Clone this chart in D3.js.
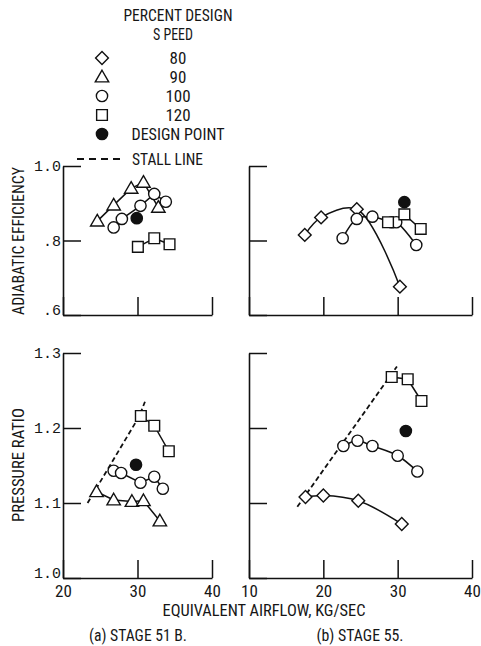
<!DOCTYPE html>
<html>
<head>
<meta charset="utf-8">
<script src="https://cdn.jsdelivr.net/npm/d3@7"></script>
<style>
  body { margin: 0; background: #fff; }
  text { fill: #161616; }
  .cond { font-family: "Liberation Sans Narrow", "Roboto Condensed", "DejaVu Sans Condensed", "Arial Narrow", sans-serif; }
  .mono { font-family: "Liberation Mono", "DejaVu Sans Mono", monospace; }
</style>
</head>
<body>
<div id="vis"></div>
<script>
// ---- data: [airflow kg/sec, value] ----
// stage 51B efficiency
const effA_90  = [[24.6,0.852],[26.8,0.895],[29.15,0.94],[30.8,0.956],[32.8,0.889]];
const effA_100 = [[26.8,0.835],[27.9,0.858],[30.4,0.893],[32.25,0.925],[33.8,0.904]];
const effA_120 = [[30.05,0.783],[32.25,0.806],[34.3,0.79]];
const effA_design = [[29.9,0.86]];
// stage 55 efficiency
const effB_80  = [[17.5,0.815],[19.7,0.862],[24.5,0.884],[30.3,0.676]];
const effB_100 = [[22.6,0.806],[24.5,0.858],[26.6,0.864],[29.2,0.849],[29.8,0.849],[32.5,0.788]];
const effB_120 = [[28.7,0.849],[30.9,0.87],[33.1,0.831]];
const effB_design = [[30.9,0.903]];
// stage 51B pressure ratio
const prA_90  = [[24.5,1.115],[26.8,1.104],[29.25,1.102],[30.8,1.103],[33.0,1.076]];
const prA_100 = [[26.8,1.143],[27.8,1.14],[30.4,1.127],[32.25,1.135],[33.4,1.119]];
const prA_120 = [[30.45,1.216],[32.25,1.203],[34.2,1.169]];
const prA_design = [[29.8,1.151]];
const prA_stall = [[23.3,1.10],[30.2,1.215],[31.0,1.235]];
// stage 55 pressure ratio
const prB_80  = [[17.6,1.108],[20.0,1.11],[24.7,1.103],[30.55,1.072]];
const prB_100 = [[22.7,1.176],[24.6,1.183],[26.6,1.176],[30.0,1.163],[32.65,1.142]];
const prB_120 = [[29.2,1.268],[31.35,1.265],[33.2,1.236]];
const prB_design = [[31.1,1.196]];
const prB_stall = [[16.5,1.095],[29.9,1.282]];

const effTicks = [0.6, 0.8, 1.0];
const effTickLabels = [".6", ".8", "1.0"];
const prTicks = [1.0, 1.1, 1.2, 1.3];
const prTickLabels = ["1.0", "1.1", "1.2", "1.3"];
const xTicksA = [20, 30, 40];
const xTicksB = [10, 20, 30, 40];
const legendSpeeds = ["80", "90", "100", "120"];

const W = 481, H = 646;
const svg = d3.select("#vis").append("svg")
    .attr("width", W)
    .attr("height", H);

const xA = d3.scaleLinear().domain([20, 40]).range([63, 212]);
const xB = d3.scaleLinear().domain([10, 40]).range([249, 472]);
const yEff = d3.scaleLinear().domain([0.6, 1.0]).range([315, 166]);
const yPr = d3.scaleLinear().domain([1.0, 1.3]).range([578, 353]);

// marker shapes
const shapes = {
  diamond: d3.symbol().type(d3.symbolSquare).size(82),
  triangle: d3.symbol().type(d3.symbolTriangle).size(78),
  circle: d3.symbol().type(d3.symbolCircle).size(100),
  square: d3.symbol().type(d3.symbolSquare).size(115)
};

function marker(g, kind, cx, cy, filled){
  let p = g.append("path")
      .attr("d", shapes[kind]())
      .attr("fill", filled ? "#111" : "#fff")
      .attr("stroke", "#111")
      .attr("stroke-width", 1.4);
  if(kind == "diamond"){
    p.attr("transform", "translate(" + cx + "," + cy + ")rotate(45)");
  }else if(kind == "triangle"){
    p.attr("transform", "translate(" + cx + "," + (cy + 1) + ")");
  }else{
    p.attr("transform", "translate(" + cx + "," + cy + ")");
  }
}

function panel(x, y, yTicks, yLabels, xTicks, showXLabels, showYLabels){
  let g = svg.append("g");
  let ax = d3.axisBottom(x).tickValues(xTicks).tickSize(-18).tickSizeOuter(0).tickPadding(7);
  let ay = d3.axisLeft(y).tickValues(yTicks).tickSize(-18).tickSizeOuter(0).tickPadding(2);
  ay.tickFormat((d, i) => yLabels[i]);
  let gx = g.append("g").attr("transform", "translate(0," + y.range()[0] + ")").call(ax);
  let gy = g.append("g").attr("transform", "translate(" + x.range()[0] + ",0)").call(ay);
  [gx, gy].forEach(a => {
    a.selectAll("path, line").attr("stroke", "#111").attr("stroke-width", 1.5);
    a.select(".domain").attr("stroke-width", 1.6);
  });
  gx.selectAll("text").attr("class", "cond").attr("font-size", 17).attr("fill", "#161616");
  gy.selectAll("text").attr("class", "mono").attr("font-size", 15).attr("fill", "#161616");
  // lowest label sits a little above the corner
  gy.selectAll("text").filter((d, i) => i == 0).attr("dy", "-0.05em");
  if(!showXLabels) gx.selectAll("text").remove();
  if(!showYLabels) gy.selectAll("text").remove();
  return g;
}

function series(g, x, y, data, kind, curve){
  let line = d3.line()
      .x(d => x(d[0]))
      .y(d => y(d[1]))
      .curve(curve || d3.curveLinear);
  if(data.length > 1){
    g.append("path")
        .attr("d", line(data))
        .attr("fill", "none")
        .attr("stroke", "#111")
        .attr("stroke-width", 1.5);
  }
  return function(){
    data.forEach(d => marker(g, kind, x(d[0]), y(d[1]), false));
  };
}

function stall(g, x, y, data){
  g.append("path")
      .attr("d", d3.line().x(d => x(d[0])).y(d => y(d[1]))(data))
      .attr("fill", "none")
      .attr("stroke", "#111")
      .attr("stroke-width", 1.8)
      .attr("stroke-dasharray", "5,3");
}

function design(g, x, y, data){
  data.forEach(d => marker(g, "circle", x(d[0]), y(d[1]), true));
}

// upper left
let g1 = panel(xA, yEff, effTicks, effTickLabels, xTicksA, false, true);
let m1 = [
  series(g1, xA, yEff, effA_90, "triangle"),
  series(g1, xA, yEff, effA_100, "circle"),
  series(g1, xA, yEff, effA_120, "square")
];
m1.forEach(f => f());
design(g1, xA, yEff, effA_design);

// upper right
let g2 = panel(xB, yEff, effTicks, effTickLabels, xTicksB, false, false);
let m2 = [
  series(g2, xB, yEff, effB_80, "diamond", d3.curveCatmullRom.alpha(0.5)),
  series(g2, xB, yEff, effB_100, "circle", d3.curveCatmullRom),
  series(g2, xB, yEff, effB_120, "square")
];
m2.forEach(f => f());
design(g2, xB, yEff, effB_design);

// lower left
let g3 = panel(xA, yPr, prTicks, prTickLabels, xTicksA, true, true);
stall(g3, xA, yPr, prA_stall);
let m3 = [
  series(g3, xA, yPr, prA_90, "triangle"),
  series(g3, xA, yPr, prA_100, "circle"),
  series(g3, xA, yPr, prA_120, "square")
];
m3.forEach(f => f());
design(g3, xA, yPr, prA_design);

// lower right
let g4 = panel(xB, yPr, prTicks, prTickLabels, xTicksB, true, false);
stall(g4, xB, yPr, prB_stall);
let m4 = [
  series(g4, xB, yPr, prB_80, "diamond", d3.curveCatmullRom),
  series(g4, xB, yPr, prB_100, "circle", d3.curveCatmullRom),
  series(g4, xB, yPr, prB_120, "square")
];
m4.forEach(f => f());
design(g4, xB, yPr, prB_design);

// axis titles
function label(txt, x, y, len, size, rot){
  let t = svg.append("text")
      .attr("class", "cond")
      .attr("font-size", size)
      .attr("text-anchor", "middle")
      .text(txt);
  if(len) t.attr("textLength", len).attr("lengthAdjust", "spacingAndGlyphs");
  if(rot){
    t.attr("transform", "translate(" + x + "," + y + ")rotate(-90)").attr("dy", "0.35em");
  }else{
    t.attr("x", x).attr("y", y);
  }
  return t;
}
label("ADIABATIC EFFICIENCY", 18, 241, 148, 17, true);
label("PRESSURE RATIO", 18, 465, 114, 17, true);
label("EQUIVALENT AIRFLOW,  KG/SEC", 264, 616, 203, 17);
label("(a) STAGE 51 B.", 138, 641, 98, 17);
label("(b) STAGE 55.", 360, 641, 87, 17);

// legend
label("PERCENT DESIGN", 178, 21, 109, 16);
label("S PEED", 173, 40, 40, 16);
const legendKinds = ["diamond", "triangle", "circle", "square"];
const legendY = d3.scalePoint().domain(d3.range(5)).range([58, 134]);
let lg = svg.append("g");
legendKinds.forEach((k, i) => {
  marker(lg, k, 102, legendY(i), false);
  label(legendSpeeds[i], 178, legendY(i) + 6, null, 17);
});
marker(lg, "circle", 102, legendY(4), true);
label("DESIGN POINT", 178, legendY(4) + 6, 93, 17);
lg.append("line")
    .attr("x1", 77).attr("x2", 121)
    .attr("y1", 159).attr("y2", 159)
    .attr("stroke", "#111")
    .attr("stroke-width", 1.8)
    .attr("stroke-dasharray", "7,5");
label("STALL LINE", 167.5, 165, 71, 17);
</script>
</body>
</html>
